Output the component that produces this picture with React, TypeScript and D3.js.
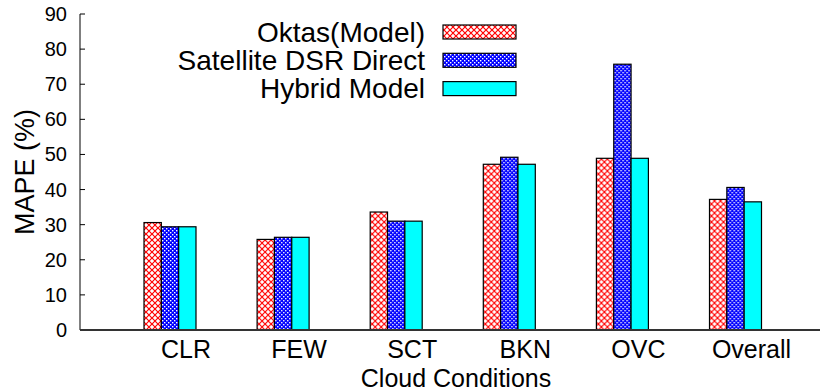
import React from "react";
import * as d3 from "d3";

const categories = ["CLR", "FEW", "SCT", "BKN", "OVC", "Overall"];
const seriesNames = ["Oktas(Model)", "Satellite DSR Direct", "Hybrid Model"];
const oktasValues = [30.6, 25.8, 33.6, 47.2, 48.9, 37.2];
const satelliteValues = [29.4, 26.4, 31.0, 49.2, 75.7, 40.6];
const hybridValues = [29.4, 26.4, 31.0, 47.2, 48.9, 36.5];
const yTicks = [0, 10, 20, 30, 40, 50, 60, 70, 80, 90];

const fills = ["url(#hatchRed)", "url(#hatchBlue)", "#00ffff"];

const App = () => {
  const width = 820;
  const height = 391;
  const margins = { top: 14, left: 80, bottom: 61 };
  const font = "'Liberation Sans', Arial, Helvetica, sans-serif";

  const yScale = d3
    .scaleLinear()
    .domain([0, 90])
    .range([height - margins.bottom, margins.top]);

  // group centres (middle bar)
  const xScale = d3.scalePoint().domain(categories).range([170, 735.5]);

  const inner = d3
    .scaleBand()
    .domain(seriesNames)
    .range([-26, 26])
    .padding(0);

  const table = categories.map((c, i) => ({
    name: c,
    values: [oktasValues[i], satelliteValues[i], hybridValues[i]],
  }));

  const bars = table.map((d) => (
    <g key={d.name} transform={`translate(${xScale(d.name)},0)`}>
      {d.values.map((v, j) => (
        <rect
          key={j}
          x={inner(seriesNames[j])}
          y={yScale(v)}
          width={inner.bandwidth()}
          height={yScale(0) - yScale(v)}
          fill={fills[j]}
          stroke="#000"
          strokeWidth={1.2}
        />
      ))}
    </g>
  ));

  const legendX = 443;
  const legendRows = seriesNames.map((s, j) => {
    const y = 25 + j * 28.3;
    return (
      <g key={s}>
        <text
          x={legendX - 18}
          y={y + 16.5}
          textAnchor="end"
          fontSize={28}
          fontFamily={font}
        >
          {s}
        </text>
        <rect
          x={legendX}
          y={y}
          width={73}
          height={14}
          fill={fills[j]}
          stroke="#000"
          strokeWidth={1.2}
        />
      </g>
    );
  });

  return (
    <svg
      width={width}
      height={height}
      style={{ position: "absolute", left: 0, top: 0, background: "#fff" }}
    >
      <defs>
        <pattern
          id="hatchRed"
          width="6"
          height="6"
          patternUnits="userSpaceOnUse"
        >
          <rect width="6" height="6" fill="#fff" />
          <path
            d="M0,0 L6,6 M6,0 L0,6"
            stroke="#ff0000"
            strokeWidth="1.2"
          />
        </pattern>
        <pattern
          id="hatchBlue"
          width="4"
          height="4"
          patternUnits="userSpaceOnUse"
        >
          <rect width="4" height="4" fill="#0000ff" />
          <rect x="0" y="0" width="1.4" height="1.4" fill="#fff" />
          <rect x="2" y="2" width="1.4" height="1.4" fill="#fff" />
        </pattern>
      </defs>

      {/* y axis */}
      <line
        x1={margins.left}
        x2={margins.left}
        y1={margins.top}
        y2={yScale(0)}
        stroke="#000"
        strokeWidth={1}
      />
      {yTicks.map((t) => (
        <g key={t}>
          <line
            x1={margins.left}
            x2={margins.left + 5}
            y1={yScale(t)}
            y2={yScale(t)}
            stroke="#000"
            strokeWidth={1}
          />
          <text
            x={67}
            y={yScale(t) + 7}
            textAnchor="end"
            fontSize={20}
            fontFamily={font}
          >
            {t}
          </text>
        </g>
      ))}
      <text
        transform={`translate(34,172) rotate(-90)`}
        textAnchor="middle"
        fontSize={27}
        fontFamily={font}
      >
        MAPE (%)
      </text>

      <g>{bars}</g>

      {/* x axis baseline */}
      <line
        x1={margins.left}
        x2={width}
        y1={yScale(0)}
        y2={yScale(0)}
        stroke="#333"
        strokeWidth={2}
      />
      {categories.map((c) => (
        <text
          key={c}
          x={(xScale(c) as number) + 16}
          y={358}
          textAnchor="middle"
          fontSize={25}
          fontFamily={font}
        >
          {c}
        </text>
      ))}
      <text
        x={456}
        y={386.5}
        textAnchor="middle"
        fontSize={25}
        fontFamily={font}
      >
        Cloud Conditions
      </text>

      <g>{legendRows}</g>
    </svg>
  );
};

export default App;
